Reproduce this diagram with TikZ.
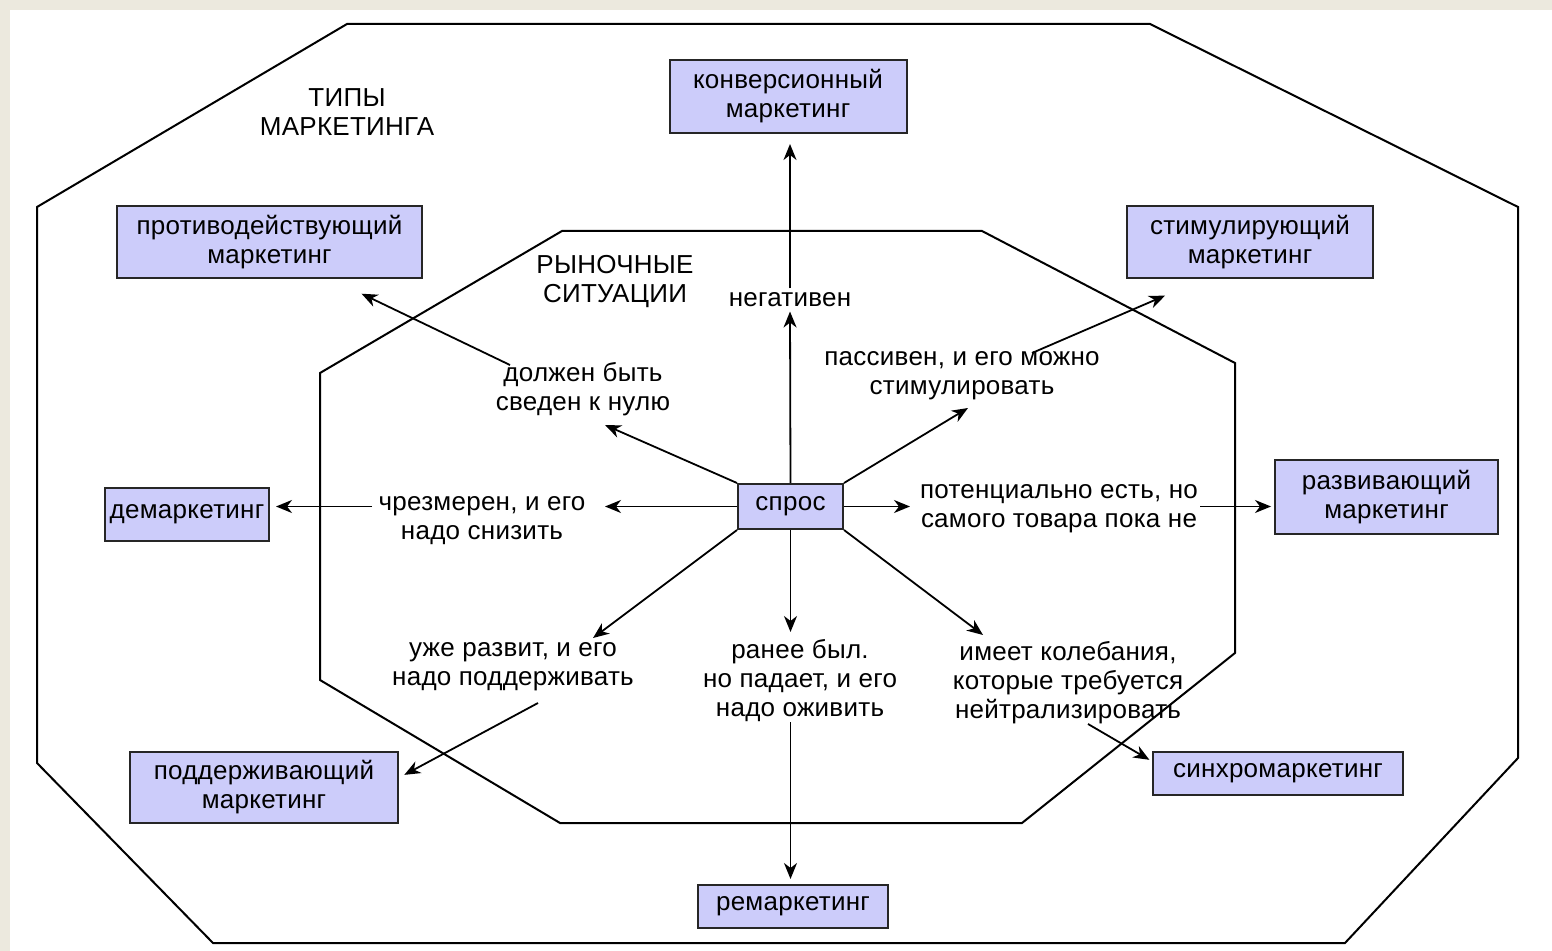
\documentclass[tikz,border=0pt]{standalone}
\usepackage{fontspec}
\setmainfont[LetterSpace=1]{Liberation Sans}
\usetikzlibrary{arrows.meta,calc}
\definecolor{boxfill}{RGB}{204,204,250}
\definecolor{framebg}{RGB}{236,233,222}
\begin{document}
\begin{tikzpicture}[x=0.5pt,y=-0.5pt,
  font=\fontsize{13}{14.5}\selectfont,
  box/.style={draw=black!85, line width=1pt, fill=boxfill, inner sep=0pt, align=center},
  lbl/.style={align=center, inner sep=2pt},
  arr/.style={line width=0.9pt, -{Stealth[length=8pt,width=6.5pt,inset=2.5pt]}},
  oct/.style={line width=1pt}]
\useasboundingbox (0,0) rectangle (1552,951);
\fill[framebg] (0,0) rectangle (1552,951);
\fill[white] (10,10) rectangle (1552,951);

% octagons
\draw[oct] (347,24) -- (1150,24) -- (1518,207) -- (1518,758) -- (1345,943) -- (213,943) -- (37,763) -- (37,207) -- cycle;
\draw[oct] (562,231) -- (982,231) -- (1235,363) -- (1235,653) -- (1022,823) -- (560,823) -- (320,680) -- (320,373) -- cycle;

% titles
\node[lbl] (tipy) at (347,112) {ТИПЫ\\МАРКЕТИНГА};
\node[lbl] (ryn) at (615,282) {РЫНОЧНЫЕ\\СИТУАЦИИ};

% boxes
\node[box, minimum width=118.5pt, minimum height=36.5pt] (konv) at (788,96.5) {конверсионный\\маркетинг};
\node[box, minimum width=152.5pt, minimum height=36pt] (protiv) at (269.5,242) {противодействующий\\маркетинг};
\node[box, minimum width=123pt, minimum height=36pt] (stim) at (1250,242) {стимулирующий\\маркетинг};
\node[box, minimum width=82pt, minimum height=26.5pt] (demark) at (187,514.5) {демаркетинг};
\node[box, minimum width=111.5pt, minimum height=37pt] (razv) at (1386.5,497) {развивающий\\маркетинг};
\node[box, minimum width=134pt, minimum height=35.5pt] (podd) at (264,787.5) {поддерживающий\\маркетинг};
\node[box, minimum width=52.5pt, minimum height=22.5pt] (spros) at (790.5,506.5) {спрос};
\node[box, minimum width=95pt, minimum height=21.5pt] (remark) at (793,906.5) {ремаркетинг};
\node[box, minimum width=125pt, minimum height=21.5pt] (sinhro) at (1278,773.5) {синхромаркетинг};

% situation labels
\node[lbl] (neg) at (790,300) {негативен};
\node[lbl] (dolzh) at (583,389) {должен быть\\сведен к нулю};
\node[lbl] (chrez) at (482,521) {чрезмерен, и его\\надо снизить};
\node[lbl] (potenc) at (1059,509) {потенциально есть, но\\самого товара пока не};
\node[lbl] (passiv) at (962,376) {пассивен, и его можно\\стимулировать};
\node[lbl] (uzhe) at (513,667) {уже развит, и его\\надо поддерживать};
\node[lbl] (ranee) at (800,681) {ранее был.\\но падает, и его\\надо оживить};
\node[lbl] (imeet) at (1068,683) {имеет колебания,\\которые требуется\\нейтрализировать};

% free ends
\coordinate (c1t) at (605,425);  \coordinate (c1s) at (510,365);
\coordinate (c2t) at (605,506.5);\coordinate (c2s) at (372,506.5);
\coordinate (c3t) at (910,506.5);\coordinate (c3s) at (1200,506.5);
\coordinate (c4t) at (968,408);  \coordinate (c4s) at (1032,353);
\coordinate (c5t) at (593,638);  \coordinate (c5s) at (538,703);
\coordinate (c6t) at (790.5,632);\coordinate (c6s) at (790.5,722);
\coordinate (c7t) at (983,635);  \coordinate (c7s) at (1088,724);

% connectors
\draw[arr] (spros.north) -- (neg.south);
\draw[arr, shorten >=5pt] (neg.north) -- (neg.north |- konv.south);
\draw[arr] (spros.north west) -- (c1t);
\draw[arr, shorten >=17pt] (c1s) -- ($(protiv.south west)!0.70!(protiv.south east)$);
\draw[arr] (spros.west) -- (c2t);
\draw[arr, shorten >=3pt] (c2s) -- (c2s -| demark.east);
\draw[arr] (spros.east) -- (c3t);
\draw[arr, shorten >=1.5pt] (c3s) -- (c3s -| razv.west);
\draw[arr] (spros.north east) -- (c4t);
\draw[arr, shorten >=21pt] (c4s) -- ($(stim.south west)!0.313!(stim.south east)$);
\draw[arr] (spros.south west) -- (c5t);
\draw[arr, shorten >=3pt] (c5s) -- ($(podd.north east)!0.366!(podd.south east)$);
\draw[arr] (spros.south) -- (c6t);
\draw[arr, shorten >=2.5pt] (c6s) -- (c6s |- remark.north);
\draw[arr] (spros.south east) -- (c7t);
\draw[arr, shorten >=1.5pt] (c7s) -- ($(sinhro.north west)!0.23!(sinhro.south west)$);
\end{tikzpicture}
\end{document}
